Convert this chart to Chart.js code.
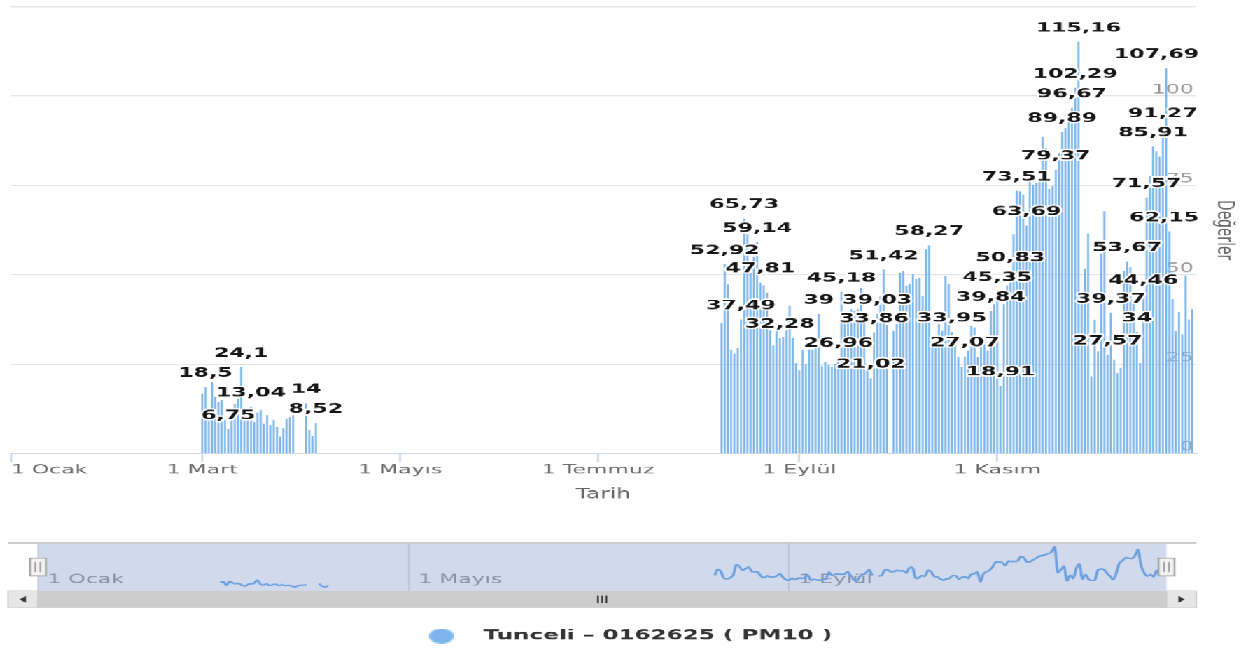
<!DOCTYPE html>
<html lang="tr">
<head>
<meta charset="utf-8">
<title>Tunceli PM10</title>
<script src="https://cdn.jsdelivr.net/npm/chart.js@4.4.1/dist/chart.umd.min.js"></script>
<style>
  html, body { margin: 0; padding: 0; background: #fff; overflow: hidden; width: 1260px; height: 653px; }
  #stage { position: absolute; left: 0; top: 0; width: 600px; height: 520px; transform-origin: 0 0; transform: scale(2.1, 1.255769); }
  #mainCanvas { position: absolute; left: 0; top: 0; }
  #navCanvas { position: absolute; left: 0; top: 422px; }
</style>
</head>
<body>
<div id="stage">
  <canvas id="mainCanvas" width="600" height="410"></canvas>
  <canvas id="navCanvas" width="600" height="100"></canvas>
</div>
<script>
// ---------------- data ----------------
const YEAR_START = '2021-01-01';
const seriesName = 'Tunceli – 0162625 ( PM10 )';

const springStart = '2021-03-01';
const springValues = [16.7, 18.5, 9.7, 19.9, 15.8, 14.4, 14.9, 9.3, 6.75, 11.6,
  13.9, 15.3, 24.1, 12.6, 10.2, 13.04, 8.8, 11.5, 12.1, 8.3,
  10.7, 7.9, 9.3, 7.4, 4.6, 7.0, 9.7, 10.2, 10.7, null,
  null, null, 14, 6.5, 4.8, 8.52];

const autumnStart = '2021-08-08';
const autumnValues = [
  36.5, 52.92, 47.2, 29.0, 27.8, 29.4, 37.49, 65.73, 61.3, 50.6,
  55.0, 59.14, 47.81, 47.0, 45.0, 34.4, 30.2, 35.3, 32.28, 32.5,
  34.4, 41.3, 32.3, 25.3, 23.2, 29.0, 24.9, 29.0, 29.0, 29.3,
  39, 24.4, 25.6, 24.6, 24.2, 25.1, 26.96, 45.18, 36.2, 39.9,
  40.4, 39.9, 40.4, 46.4, 37.1, 24.6, 21.02, 33.86, 39.03, 44.0,
  51.42, 36.0, null, 34.3, 36.2, 50.6, 51.1, 46.9, 47.4, 50.2,
  48.7, 49.2, 44.0, 57.1, 58.27, 29.7, 29.5, 36.2, 34.3, 49.7,
  47.4, 33.95, 32.9, 26.9, 24.1, 27.07, 28.7, 35.7, 35.2, 26.9,
  31.1, 32.5, 28.7, 39.84, 41.8, 45.35, 18.91, 41.8, 47.0, 50.83,
  61.3, 73.51, 73.4, 72.4, 63.69, 76.1, 75.2, 75.6, 76.5, 88.6,
  85.5, 74.0, 74.7, 79.37, 84.0, 89.89, 91.0, 94.0, 96.67, 102.29,
  115.16, 45.0, 51.7, 61.6, 21.5, 37.4, 28.6, 55.9, 67.8, 27.57,
  39.37, 26.2, 22.5, 23.9, 51.1, 53.67, 52.0, 42.2, 34, 25.3,
  44.46, 71.57, 77.5, 85.91, 84.5, 83.0, 91.27, 107.69, 62.15, 43.2,
  34.3, 39.5, 33.3, 49.8, 37.5, 40.4];

const labeledDates = ['2021-03-02', '2021-03-09', '2021-03-13', '2021-03-16', '2021-04-02', '2021-04-05',
  '2021-08-09', '2021-08-14', '2021-08-15', '2021-08-19', '2021-08-20', '2021-08-26', '2021-09-07',
  '2021-09-13', '2021-09-14', '2021-09-23', '2021-09-24', '2021-09-25', '2021-09-27', '2021-10-11',
  '2021-10-18', '2021-10-22', '2021-10-30', '2021-11-01', '2021-11-02', '2021-11-05', '2021-11-07',
  '2021-11-10', '2021-11-21', '2021-11-19', '2021-11-24', '2021-11-25', '2021-11-26', '2021-12-05',
  '2021-12-06', '2021-12-11', '2021-12-14', '2021-12-16', '2021-12-17', '2021-12-19', '2021-12-22',
  '2021-12-23', '2021-12-24'];

const mainTickDates = ['2021-01-01', '2021-03-01', '2021-05-01', '2021-07-01', '2021-09-01', '2021-11-01', '2022-01-01'];
const mainTickLabels = ['1 Ocak', '1 Mart', '1 Mayıs', '1 Temmuz', '1 Eylül', '1 Kasım', ''];
const navTickDates = ['2021-01-01', '2021-05-01', '2021-09-01'];
const navTickLabels = ['1 Ocak', '1 Mayıs', '1 Eylül'];
const yAxisMax = 125;
const yAxisStep = 25;
const xAxisEndDate = '2022-01-01';

// ---------------- helpers ----------------
const FONT = '"DejaVu Sans", sans-serif';
Chart.defaults.font.family = FONT;
const DAY_MS = 86400000;
const dayOf = s => Math.round((Date.parse(s + 'T00:00:00Z') - Date.parse(YEAR_START + 'T00:00:00Z')) / DAY_MS);
const seriesPoints = (start, values) => { const d0 = dayOf(start); return values.map((v, i) => ({ x: d0 + i, y: v })); };
const springPoints = seriesPoints(springStart, springValues);
const autumnPoints = seriesPoints(autumnStart, autumnValues);
const points = springPoints.concat([{ x: springPoints[springPoints.length - 1].x + 1, y: null }], autumnPoints);
const xMax = dayOf(xAxisEndDate) + 0.2;
const labeledDays = new Set(labeledDates.map(dayOf));
const allVals = points.filter(p => p.y != null).map(p => p.y);
const vMin = Math.min(...allVals), vMax = Math.max(...allVals);
const navPad = (vMax - vMin) * 0.1;

// ---------------- main chart ----------------
const valueLabels = {
  id: 'valueLabels',
  afterDatasetsDraw(chart) {
    const meta = chart.getDatasetMeta(0);
    const { ctx, chartArea: a } = chart;
    ctx.save();
    ctx.font = 'bold 10.5px ' + FONT;
    ctx.textAlign = 'center';
    ctx.textBaseline = 'middle';
    ctx.lineJoin = 'round';
    meta.data.forEach((el, i) => {
      const p = points[i];
      if (p.y == null || !labeledDays.has(p.x)) return;
      const txt = String(p.y).replace('.', ',');
      const w = ctx.measureText(txt).width;
      const x = Math.max(a.left + w / 2, Math.min(el.x, a.right + 1.5 - w / 2));
      const y = el.y - 10.9;
      ctx.strokeStyle = '#ffffff';
      ctx.lineWidth = 2.2;
      ctx.strokeText(txt, x, y);
      ctx.fillStyle = '#151515';
      ctx.fillText(txt, x, y);
    });
    ctx.restore();
  }
};

new Chart(document.getElementById('mainCanvas'), {
  type: 'bar',
  data: {
    datasets: [{
      label: seriesName,
      data: points,
      backgroundColor: '#7cb5ec',
      borderWidth: 0,
      categoryPercentage: 0.8,
      barPercentage: 0.78
    }]
  },
  options: {
    responsive: false,
    animation: false,
    devicePixelRatio: 2.1,
    layout: { padding: { left: 5.1, right: 6.4, top: 3.2, bottom: 5.4 } },
    plugins: { legend: { display: false }, tooltip: { enabled: false } },
    scales: {
      x: {
        type: 'linear', min: 0, max: xMax, offset: false,
        afterBuildTicks: s => { s.ticks = mainTickDates.map(d => ({ value: dayOf(d) })); },
        ticks: {
          autoSkip: false, maxRotation: 0, minRotation: 0, align: 'inner', padding: 0,
          color: '#666666', font: { size: 10.5 },
          callback: (v, i) => mainTickLabels[i] ?? ''
        },
        grid: {
          drawOnChartArea: false, drawTicks: true, tickLength: 7, offset: false,
          tickColor: c => (c.index === mainTickDates.length - 1 ? 'rgba(0,0,0,0)' : '#ccd6eb')
        },
        border: { display: true, color: '#ccd6eb' },
        title: { display: true, text: 'Tarih', color: '#666666', font: { size: 11 }, padding: { top: 4, bottom: 4 } },
        afterFit: s => { s.height = 43.6; }
      },
      y: {
        position: 'right', min: 0, max: yAxisMax,
        ticks: {
          stepSize: yAxisStep, mirror: true, padding: -1, labelOffset: -5,
          color: '#999999', font: { size: 10.5 },
          callback: v => (v === yAxisMax ? '' : v)
        },
        grid: { color: '#e6e6e6', lineWidth: 1, drawTicks: false },
        border: { display: false },
        title: { display: true, text: 'Değerler', color: '#666666', font: { size: 11 }, padding: { top: 4, bottom: 4 } },
        afterFit: s => { s.width = 24.1; }
      }
    }
  },
  plugins: [valueLabels]
});

// ---------------- navigator ----------------
const dot = document.createElement('canvas');
dot.width = 12; dot.height = 12;
(() => { const c = dot.getContext('2d'); c.fillStyle = '#7cb5ec'; c.beginPath(); c.arc(6, 6, 6, 0, Math.PI * 2); c.fill(); })();

const navigatorDecor = {
  id: 'navigatorDecor',
  beforeDatasetsDraw(chart) {
    const { ctx, chartArea: a, scales: { x } } = chart;
    ctx.save();
    ctx.font = '10.5px ' + FONT;
    ctx.fillStyle = '#999999';
    ctx.textAlign = 'left';
    ctx.textBaseline = 'middle';
    navTickDates.forEach((d, i) => ctx.fillText(navTickLabels[i], x.getPixelForValue(dayOf(d)) + 4.5, a.bottom - 8.8));
    ctx.restore();
  },
  afterDatasetsDraw(chart) {
    const { ctx, chartArea: a } = chart;
    ctx.save();
    ctx.fillStyle = 'rgba(102,133,194,0.3)';
    ctx.fillRect(a.left, a.top, a.right - a.left, a.bottom - a.top);
    ctx.restore();
  },
  afterDraw(chart) {
    const { ctx, chartArea: a } = chart;
    const btn = 14.2, sbH = 13.4;
    const L = a.left - btn, R = a.right + btn;
    ctx.save();
    ctx.strokeStyle = '#cccccc'; ctx.lineWidth = 1;
    ctx.beginPath(); ctx.moveTo(L, a.top); ctx.lineTo(R, a.top); ctx.stroke();
    const sy = a.bottom;
    ctx.fillStyle = '#f2f2f2'; ctx.fillRect(L, sy, R - L, sbH);
    ctx.fillStyle = '#cccccc'; ctx.fillRect(a.left, sy, a.right - a.left, sbH);
    ctx.fillStyle = '#e6e6e6';
    ctx.fillRect(L, sy, btn, sbH);
    ctx.fillRect(a.right, sy, btn, sbH);
    ctx.strokeStyle = '#cccccc'; ctx.lineWidth = 0.6;
    ctx.strokeRect(L, sy, btn, sbH);
    ctx.strokeRect(a.right, sy, btn, sbH);
    ctx.fillStyle = '#333333';
    const cy = sy + sbH / 2;
    let cx = L + btn / 2;
    ctx.beginPath(); ctx.moveTo(cx - 1.6, cy); ctx.lineTo(cx + 1.4, cy - 2.6); ctx.lineTo(cx + 1.4, cy + 2.6); ctx.closePath(); ctx.fill();
    cx = a.right + btn / 2;
    ctx.beginPath(); ctx.moveTo(cx + 1.6, cy); ctx.lineTo(cx - 1.4, cy - 2.6); ctx.lineTo(cx - 1.4, cy + 2.6); ctx.closePath(); ctx.fill();
    const mx = (a.left + a.right) / 2;
    ctx.strokeStyle = '#333333'; ctx.lineWidth = 0.8;
    ctx.beginPath();
    [-2, 0, 2].forEach(o => { ctx.moveTo(mx + o, cy - 3); ctx.lineTo(mx + o, cy + 3); });
    ctx.stroke();
    const hy = (a.top + a.bottom) / 2;
    [a.left, a.right].forEach(hx => {
      ctx.fillStyle = '#f2f2f2';
      ctx.fillRect(hx - 3.8, hy - 7.2, 7.6, 14.4);
      ctx.strokeStyle = '#999999'; ctx.lineWidth = 0.8;
      ctx.strokeRect(hx - 3.8, hy - 7.2, 7.6, 14.4);
      ctx.beginPath();
      ctx.moveTo(hx - 1.2, hy - 4); ctx.lineTo(hx - 1.2, hy + 4);
      ctx.moveTo(hx + 1.2, hy - 4); ctx.lineTo(hx + 1.2, hy + 4);
      ctx.stroke();
    });
    ctx.restore();
  }
};

new Chart(document.getElementById('navCanvas'), {
  type: 'line',
  data: {
    datasets: [{
      label: seriesName,
      data: points,
      borderColor: '#72ade9',
      backgroundColor: '#7cb5ec',
      borderWidth: 1.3,
      pointRadius: 0,
      tension: 0.35,
      spanGaps: false,
      fill: false
    }]
  },
  options: {
    responsive: false,
    animation: false,
    devicePixelRatio: 2.1,
    layout: { padding: { left: 0, right: 8, top: 10.4, bottom: 0 } },
    plugins: {
      tooltip: { enabled: false },
      legend: {
        display: true, position: 'bottom',
        labels: {
          usePointStyle: true, pointStyle: dot, pointStyleWidth: 29, boxHeight: 11,
          color: '#333333', font: { size: 11, weight: 'bold' }, padding: 8
        }
      }
    },
    scales: {
      x: {
        type: 'linear', min: 0, max: xMax,
        afterBuildTicks: s => { s.ticks = navTickDates.map(d => ({ value: dayOf(d) })); },
        ticks: { display: false },
        grid: { color: '#e6e6e6', drawTicks: false },
        border: { display: false },
        afterFit: s => { s.height = 22.4; }
      },
      y: {
        position: 'left', min: vMin - navPad, max: vMax + navPad,
        ticks: { display: false }, grid: { display: false }, border: { display: false },
        afterFit: s => { s.width = 18; }
      },
      y2: {
        type: 'linear', axis: 'y', position: 'right',
        ticks: { display: false }, grid: { display: false }, border: { display: false },
        afterFit: s => { s.width = 36.5; }
      }
    }
  },
  plugins: [navigatorDecor]
});
</script>
</body>
</html>
